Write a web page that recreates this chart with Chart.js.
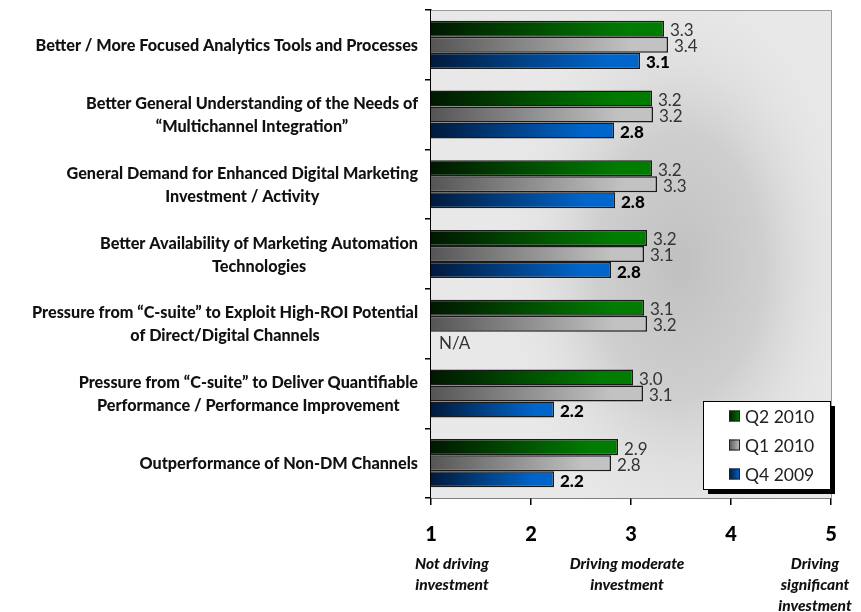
<!DOCTYPE html>
<html>
<head>
<meta charset="utf-8">
<script src="https://cdn.jsdelivr.net/npm/chart.js"></script>
<style>
  html, body { margin: 0; padding: 0; background: #fff; }
  #wrap { width: 861px; height: 612px; position: relative; }
</style>
</head>
<body>
<div id="wrap"><canvas id="driversChart"></canvas></div>
<script>
// Survey drivers, average score on a 1-5 scale
const categories = [
  ['Better / More Focused Analytics Tools and Processes'],
  ['Better General Understanding of the Needs of', '“Multichannel Integration”'],
  ['General Demand for Enhanced Digital Marketing', 'Investment / Activity'],
  ['Better Availability of Marketing Automation', 'Technologies'],
  ['Pressure from “C-suite” to Exploit High-ROI Potential', 'of Direct/Digital Channels'],
  ['Pressure from “C-suite” to Deliver Quantifiable', 'Performance / Performance Improvement'],
  ['Outperformance of Non-DM Channels']
];
const q2_2010 = [3.33, 3.21, 3.21, 3.16, 3.13, 3.02, 2.87];
const q1_2010 = [3.37, 3.22, 3.26, 3.13, 3.16, 3.12, 2.80];
const q4_2009 = [3.09, 2.83, 2.84, 2.80, null, 2.23, 2.23];
const seriesNames = ['Q2 2010', 'Q1 2010', 'Q4 2009'];
const scaleTicks = [1, 2, 3, 4, 5];
const scaleNotes = [
  ['Not driving', 'investment'],
  ['Driving moderate', 'investment'],
  ['Driving', 'significant', 'investment']
];

const FONT = 'Lato, "Open Sans", sans-serif';
const barFills = [
  ['#001800', '#007c00'],
  ['#555555', '#c2c2c2'],
  ['#001a3c', '#0066cc']
];

function barGradient(ctx) {
  const fills = barFills[ctx.datasetIndex];
  const x = ctx.chart.scales.x;
  if (ctx.type !== 'data' || !x || ctx.raw == null) return fills[1];
  const x0 = x.getPixelForValue(scaleTicks[0]);
  const x1 = x.getPixelForValue(ctx.raw);
  if (!Number.isFinite(x0) || !Number.isFinite(x1) || x1 <= x0) return fills[1];
  const g = ctx.chart.ctx.createLinearGradient(x0, 0, x1, 0);
  g.addColorStop(0, fills[0]);
  g.addColorStop(0.85, fills[1]);
  g.addColorStop(1, fills[1]);
  return g;
}

// plot background, value labels, category labels, notes and legend box
const decorations = {
  id: 'decorations',
  beforeDatasetsDraw(chart) {
    const { ctx, chartArea: a } = chart;
    ctx.save();
    ctx.fillStyle = '#e8e8e8';
    ctx.fillRect(a.left, a.top, a.right - a.left, a.bottom - a.top);
    // soft darker patch in the middle of the plot
    ctx.beginPath();
    ctx.rect(a.left, a.top, a.right - a.left, a.bottom - a.top);
    ctx.clip();
    ctx.translate(680, 265);
    ctx.scale(1, 1.6);
    const r = ctx.createRadialGradient(0, 0, 0, 0, 0, 185);
    r.addColorStop(0, 'rgba(192,192,192,1)');
    r.addColorStop(0.45, 'rgba(200,200,200,0.8)');
    r.addColorStop(1, 'rgba(232,232,232,0)');
    ctx.fillStyle = r;
    ctx.fillRect(-300, -200, 600, 400);
    ctx.restore();

    ctx.save();
    ctx.strokeStyle = '#9a9a9a';
    ctx.lineWidth = 1;
    ctx.beginPath();
    ctx.moveTo(a.left, a.top + 0.5);
    ctx.lineTo(a.right + 0.5, a.top + 0.5);
    ctx.lineTo(a.right + 0.5, a.bottom);
    ctx.stroke();
    ctx.restore();
  },
  afterDatasetsDraw(chart) {
    const { ctx } = chart;
    ctx.save();
    ctx.textBaseline = 'middle';
    ctx.textAlign = 'left';
    chart.data.datasets.forEach((ds, di) => {
      const meta = chart.getDatasetMeta(di);
      meta.data.forEach((bar, i) => {
        const v = ds.data[i];
        if (di === 2) {
          ctx.font = '900 17px ' + FONT;
          ctx.fillStyle = '#000';
        } else {
          ctx.font = '17px ' + FONT;
          ctx.fillStyle = '#333';
        }
        if (v == null) {
          ctx.font = '17px ' + FONT;
          ctx.fillStyle = '#333';
          ctx.fillText('N/A', chart.chartArea.left + 8, bar.y + 4);
          return;
        }
        ctx.fillText(v.toFixed(1), bar.x + 6, bar.y + 2);
      });
    });
    ctx.restore();
  },
  afterDraw(chart) {
    const { ctx } = chart;
    const y = chart.scales.y;
    const x = chart.scales.x;
    ctx.save();

    // category labels: each block right aligned, lines centred in it
    ctx.font = '900 16.2px ' + FONT;
    ctx.fillStyle = '#111';
    ctx.textAlign = 'center';
    ctx.textBaseline = 'middle';
    categories.forEach((lines, i) => {
      const w = Math.max(...lines.map(l => ctx.measureText(l).width));
      const cx = 418 - w / 2;
      const cy = y.getPixelForValue(i);
      const lh = 23;
      lines.forEach((l, k) => {
        ctx.fillText(l, cx, cy + (k - (lines.length - 1) / 2) * lh + 1);
      });
    });

    // notes under the scale
    ctx.font = 'italic 900 15.5px ' + FONT;
    const anchors = [
      x.getPixelForValue(1) + 21,
      x.getPixelForValue(3) - 4,
      x.getPixelForValue(5) - 16
    ];
    scaleNotes.forEach((lines, i) => {
      lines.forEach((l, k) => ctx.fillText(l, anchors[i], 564 + k * 21));
    });

    // legend box with drop shadow
    const bx = 703, by = 401, bw = 127, bh = 88;
    ctx.fillStyle = '#000';
    ctx.fillRect(bx + 5, by + 5, bw, bh);
    ctx.fillStyle = '#fff';
    ctx.fillRect(bx, by, bw, bh);
    ctx.strokeStyle = '#000';
    ctx.lineWidth = 1;
    ctx.strokeRect(bx + 0.5, by + 0.5, bw, bh);
    ctx.textAlign = 'left';
    ctx.font = '17.5px ' + FONT;
    seriesNames.forEach((name, i) => {
      const cy = by + 15 + i * 29;
      const g = ctx.createLinearGradient(729, 0, 740, 0);
      g.addColorStop(0, barFills[i][0]);
      g.addColorStop(1, barFills[i][1]);
      ctx.fillStyle = g;
      ctx.fillRect(729, cy - 5.5, 11, 11);
      ctx.strokeStyle = '#222';
      ctx.strokeRect(729.5, cy - 5, 10, 10);
      ctx.fillStyle = '#222';
      ctx.fillText(name, 745, cy + 1);
    });
    ctx.restore();
  }
};

const series = [q2_2010, q1_2010, q4_2009];

new Chart(document.getElementById('driversChart'), {
  type: 'bar',
  data: {
    labels: categories,
    datasets: series.map((values, i) => ({
      label: seriesNames[i],
      data: values,
      backgroundColor: barGradient,
      borderColor: '#1a1a1a',
      borderWidth: 1.5,
      borderSkipped: 'start',
      categoryPercentage: 0.69,
      barPercentage: 1
    }))
  },
  options: {
    indexAxis: 'y',
    responsive: true,
    maintainAspectRatio: false,
    animation: false,
    layout: { padding: { top: 10, right: 30, left: 0, bottom: 0 } },
    plugins: {
      legend: { display: false },
      tooltip: { enabled: false }
    },
    scales: {
      x: {
        min: scaleTicks[0],
        max: scaleTicks[scaleTicks.length - 1],
        afterBuildTicks(s) { s.ticks = scaleTicks.map(v => ({ value: v })); },
        afterFit(s) { s.height = 114; },
        border: { color: '#000', width: 1.5 },
        grid: { drawOnChartArea: false, tickLength: 7, color: '#000', lineWidth: 1.5 },
        ticks: {
          padding: 18,
          color: '#000',
          font: { family: FONT, size: 20, weight: 900 }
        }
      },
      y: {
        afterFit(s) { s.width = 431; },
        border: { color: '#000', width: 1.5 },
        grid: { drawOnChartArea: false, tickLength: 6, color: '#000', lineWidth: 1.5, offset: true },
        ticks: { display: false }
      }
    }
  },
  plugins: [decorations]
});
</script>
</body>
</html>
